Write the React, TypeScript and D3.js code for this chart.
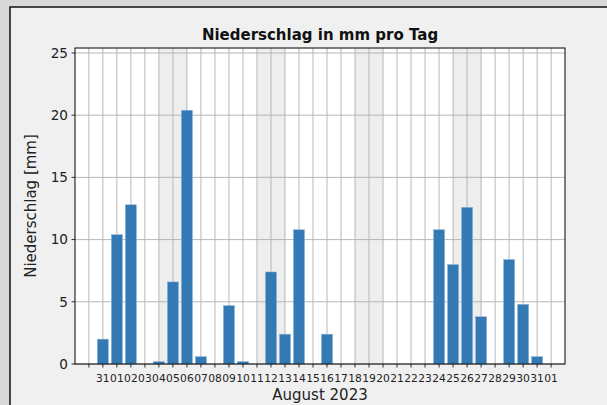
import React from 'react';
import * as d3 from 'd3';

// tick labels for day index -1 .. 32 (first tick has no label)
const tickLabels = ['', '31', '01', '02', '03', '04', '05', '06', '07', '08', '09', '10', '11', '12', '13', '14', '15', '16',
  '17', '18', '19', '20', '21', '22', '23', '24', '25', '26', '27', '28', '29', '30', '31', '01'];
// precipitation per day (index 0 .. 31)
const precip = [2.0, 10.4, 12.8, 0, 0.2, 6.6, 20.4, 0.6, 0, 4.7, 0.2, 0, 7.4, 2.4, 10.8, 0, 2.4, 0, 0, 0, 0, 0, 0, 0,
  10.8, 8.0, 12.6, 3.8, 0, 8.4, 4.8, 0.6];
// weekend spans, in day index
const weekendStart = [4, 11, 18, 25];
const weekendEnd = [6, 13, 20, 27];
const yTicks = [0, 5, 10, 15, 20, 25];

const W = 607;
const H = 405;
const margin = { left: 75, right: 565, top: 48, bottom: 364 };
const font = 'DejaVu Sans, sans-serif';

const App = () => {
  const x = d3.scaleLinear().domain([-1.99, 32.99]).range([margin.left, margin.right]);
  const y = d3.scaleLinear().domain([0, 25.4]).range([margin.bottom, margin.top]);
  const bw = x(0.8) - x(0);
  const tickIdx = d3.range(-1, 33);

  return (
    <svg width={W} height={H} style={{ position: 'fixed', left: 0, top: 0 }} fontFamily={font}>
      <rect x={0} y={0} width={W} height={H} fill="#d9d9d9" />
      <rect x={10} y={7} width={W} height={H} fill="#f0f0f0" stroke="#111" strokeWidth={1.5} />

      <rect x={margin.left} y={margin.top} width={margin.right - margin.left} height={margin.bottom - margin.top} fill="#fff" />

      {weekendStart.map((s, i) => (
        <rect key={'w' + i} x={x(s)} y={margin.top} width={x(weekendEnd[i]) - x(s)}
          height={margin.bottom - margin.top} fill="#d3d3d3" opacity={0.38} />
      ))}

      {tickIdx.map((t) => (
        <line key={'gx' + t} x1={x(t)} x2={x(t)} y1={margin.top} y2={margin.bottom} stroke="#b0b0b0" strokeWidth={0.9} />
      ))}
      {yTicks.map((t) => (
        <line key={'gy' + t} x1={margin.left} x2={margin.right} y1={y(t)} y2={y(t)} stroke="#b0b0b0" strokeWidth={0.9} />
      ))}

      {precip.map((v, i) => (
        v > 0 ? (
          <rect key={'b' + i} x={x(i) - bw / 2} y={y(v)} width={bw} height={y(0) - y(v)}
            fill="#3379b4" stroke="#9dbcdc" strokeWidth={0.5} />
        ) : null
      ))}

      <rect x={margin.left} y={margin.top} width={margin.right - margin.left} height={margin.bottom - margin.top}
        fill="none" stroke="#000" strokeWidth={1} />

      {yTicks.map((t) => (
        <g key={'ty' + t}>
          <line x1={margin.left - 3.5} x2={margin.left} y1={y(t)} y2={y(t)} stroke="#000" strokeWidth={0.8} />
          <text x={margin.left - 7} y={y(t)} dy="0.35em" textAnchor="end" fontSize={13.6} fill="#222">{t}</text>
        </g>
      ))}
      {tickIdx.map((t, i) => (
        <g key={'tx' + t}>
          <line x1={x(t)} x2={x(t)} y1={margin.bottom} y2={margin.bottom + 3.5} stroke="#000" strokeWidth={0.8} />
          <text x={x(t)} y={382} textAnchor="middle" fontSize={10.7} fill="#222">{tickLabels[i]}</text>
        </g>
      ))}

      <text x={(margin.left + margin.right) / 2} y={40} textAnchor="middle" fontSize={15} fontWeight="bold" fill="#111">
        Niederschlag in mm pro Tag
      </text>
      <text transform={`translate(36,${(margin.top + margin.bottom) / 2}) rotate(-90)`} textAnchor="middle" fontSize={15} fill="#222">
        Niederschlag [mm]
      </text>
      <text x={(margin.left + margin.right) / 2} y={400} textAnchor="middle" fontSize={15} fill="#222">
        August 2023
      </text>
    </svg>
  );
};

export default App;
